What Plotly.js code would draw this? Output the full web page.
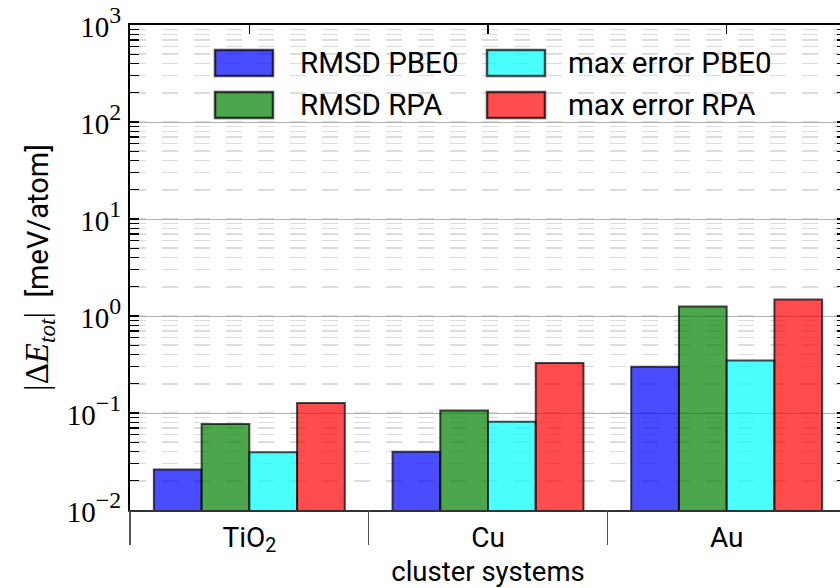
<!DOCTYPE html>
<html>
<head>
<meta charset="utf-8">
<script src="https://cdn.plot.ly/plotly-3.0.1.min.js"></script>
<style>
  html, body { margin: 0; padding: 0; overflow: hidden; background: #fff; }
  #chart { width: 850px; height: 588px; }
</style>
</head>
<body>
<div id="chart"></div>
<script>
// Cluster systems and error statistics (meV/atom)
const systems = ['TiO<sub>2</sub>', 'Cu', 'Au'];
const rmsdPBE0 = [0.0262, 0.0398, 0.299];
const rmsdRPA = [0.0769, 0.106, 1.25];
const maxErrPBE0 = [0.0393, 0.0811, 0.348];
const maxErrRPA = [0.127, 0.327, 1.48];
const seriesNames = ['RMSD PBE0', 'RMSD RPA', 'max error PBE0', 'max error RPA'];
const seriesValues = [rmsdPBE0, rmsdRPA, maxErrPBE0, maxErrRPA];
const seriesColors = ['rgba(0,0,255,0.7)', 'rgba(0,128,0,0.7)', 'rgba(0,255,255,0.7)', 'rgba(255,0,0,0.7)'];
const decades = [-2, -1, 0, 1, 2, 3];

const W = 850, H = 588;
const M = { l: 130, r: 4, t: 25, b: 78 };
const PW = W - M.l - M.r, PH = H - M.t - M.b;
const px = x => (x - M.l) / PW;          // page x -> paper x
const py = y => (H - M.b - y) / PH;      // page y -> paper y

const edge = 'rgba(0,0,0,0.7)';
const sans = 'Roboto, DejaVu Sans, sans-serif';
const serif = 'Liberation Serif, DejaVu Serif, serif';

const traces = seriesNames.map((name, i) => ({
  type: 'bar',
  name: name,
  x: systems,
  y: seriesValues[i],
  marker: { color: seriesColors[i], line: { color: edge, width: 2 } },
  showlegend: false,
  hoverinfo: 'x+y+name'
}));

// Helper axes: group separators below, category ticks along the top
const boundaries = systems.map((_, i) => i - 0.5).concat([systems.length - 0.5]);
const centers = systems.map((_, i) => i);
const xr = [-0.5, systems.length - 0.5];
traces.push({ type: 'scatter', mode: 'markers', x: boundaries, y: boundaries.map(() => null),
  xaxis: 'x2', yaxis: 'y', showlegend: false, hoverinfo: 'skip' });
traces.push({ type: 'scatter', mode: 'markers', x: centers, y: centers.map(() => null),
  xaxis: 'x3', yaxis: 'y', showlegend: false, hoverinfo: 'skip' });

// Legend drawn as a 2x2 grid of swatches and labels (column-major order)
const shapes = [], annotations = [];
const colSwatch = [215, 487], colText = [300, 568], rowMid = [63, 105];
seriesNames.forEach((name, i) => {
  const c = Math.floor(i / 2), r = i % 2;
  shapes.push({
    type: 'rect', xref: 'paper', yref: 'paper',
    x0: px(colSwatch[c]), x1: px(colSwatch[c] + 58),
    y0: py(rowMid[r] - 13), y1: py(rowMid[r] + 13),
    fillcolor: seriesColors[i], line: { color: edge, width: 2.5 }
  });
  annotations.push({
    xref: 'paper', yref: 'paper', x: px(colText[c] - 2), y: py(rowMid[r]),
    xanchor: 'left', yanchor: 'middle', showarrow: false,
    text: name, font: { family: sans, size: 29.5, color: '#000' }
  });
});

const layout = {
  width: W, height: H, margin: M,
  paper_bgcolor: '#fff', plot_bgcolor: '#fff',
  barmode: 'group', bargap: 0.2, bargroupgap: 0,
  showlegend: false,
  xaxis: {
    type: 'category', range: xr, ticks: '', showgrid: false, zeroline: false,
    showline: true, linecolor: '#333', linewidth: 2,
    tickfont: { family: sans, size: 28, color: '#000' },
    ticklabelstandoff: 1,
    title: { text: 'cluster systems', font: { family: sans, size: 27.5, color: '#000' }, standoff: 10 }
  },
  xaxis2: {
    overlaying: 'x', anchor: 'y', side: 'bottom', range: xr,
    tickvals: boundaries, ticks: 'outside', ticklen: 34, tickwidth: 1.5, tickcolor: '#555',
    showticklabels: false, showgrid: false, zeroline: false, showline: false
  },
  xaxis3: {
    overlaying: 'x', anchor: 'y', side: 'top', range: xr,
    tickvals: centers, ticks: 'inside', ticklen: 9, tickwidth: 1.5, tickcolor: '#000',
    showticklabels: false, showgrid: false, zeroline: false,
    showline: true, linecolor: '#000', linewidth: 2
  },
  yaxis: {
    type: 'log', range: [decades[0], decades[decades.length - 1]],
    tickvals: decades.map(d => Math.pow(10, d)),
    ticktext: decades.map(d => '<span style="font-size:29px">10</span><sup>' + (d < 0 ? '\u2212' + (-d) : d) + '</sup>'),
    showline: true, linecolor: '#000', linewidth: 2, mirror: 'allticks',
    ticks: 'inside', ticklen: 9, tickwidth: 1.5, tickcolor: '#000',
    showgrid: true, gridcolor: '#b0b0b0', gridwidth: 1, zeroline: false,
    minor: {
      dtick: 'D1', ticks: 'inside', ticklen: 5, tickwidth: 1.2, tickcolor: '#000',
      showgrid: true, gridcolor: '#dcdcdc', gridwidth: 1.5, griddash: '16px,16px'
    },
    tickfont: { family: serif, size: 34, color: '#000' },
    title: {
      text: '<span style="font-family:Liberation Serif;font-size:33px">|Δ<i>E</i><sub><i>tot</i></sub>|</span>  [meV/atom]',
      font: { family: sans, size: 29, color: '#000' }, standoff: 10
    }
  },
  shapes: shapes,
  annotations: annotations
};

Plotly.newPlot('chart', traces, layout, { displayModeBar: false, staticPlot: true });
</script>
</body>
</html>
